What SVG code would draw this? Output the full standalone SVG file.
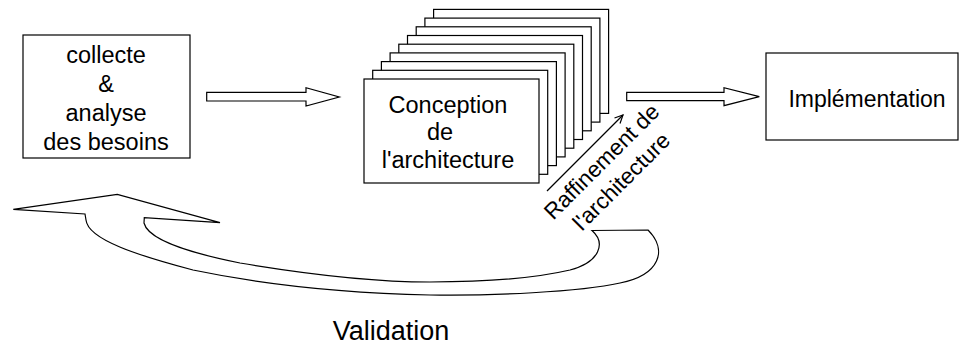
<svg xmlns="http://www.w3.org/2000/svg" width="960" height="345" viewBox="0 0 960 345">
<style>
.box{fill:#fff;stroke:#000;stroke-width:1.2}
.t{font-family:"Liberation Sans",Arial,sans-serif;fill:#000;text-anchor:middle}
.ln{fill:none;stroke:#000;stroke-width:1.2}
.blk{fill:#fff;stroke:#000;stroke-width:1.2;stroke-linejoin:miter}
</style>
<rect width="960" height="345" fill="#fff"/>
<g id="collecte">
<rect class="box" x="23" y="35" width="167" height="123"/>
<text class="t" font-size="23.5" x="106" y="63">collecte</text>
<text class="t" font-size="23.5" x="106" y="92">&amp;</text>
<text class="t" font-size="23.5" x="106" y="121">analyse</text>
<text class="t" font-size="23.5" x="106" y="150">des besoins</text>
</g>
<g id="conception">
<rect class="box" x="433.6" y="9.4" width="175" height="104"/>
<rect class="box" x="424.9" y="18.1" width="175" height="104"/>
<rect class="box" x="416.2" y="26.8" width="175" height="104"/>
<rect class="box" x="407.5" y="35.5" width="175" height="104"/>
<rect class="box" x="398.8" y="44.2" width="175" height="104"/>
<rect class="box" x="390.1" y="52.9" width="175" height="104"/>
<rect class="box" x="381.4" y="61.6" width="175" height="104"/>
<rect class="box" x="372.7" y="70.3" width="175" height="104"/>
<rect class="box" x="364" y="79" width="175" height="104"/>
<text class="t" font-size="23.5" x="448" y="113">Conception</text>
<text class="t" font-size="23.5" x="440" y="140">de</text>
<text class="t" font-size="23.5" x="448" y="168">l'architecture</text>
</g>
<g id="implementation">
<rect class="box" x="766" y="53" width="192" height="87"/>
<text class="t" font-size="23" x="867" y="106.5">Implémentation</text>
</g>
<g id="connectors">
<polygon class="blk" points="206.7,92.3 306,92.3 306,87.7 339.3,97 306,106 306,101 206.7,101"/>
<polygon class="blk" points="626.7,92.3 724,92.3 724,87.7 759.3,96.7 724,105.7 724,100.7 626.7,100.7"/>
<line class="ln" x1="547" y1="191" x2="623" y2="115"/>
<polyline class="ln" points="614.5,118 623,115 620,123.5"/>
<path class="blk" d="M592,230.5 L648,230 C668,250 660,275 620,283 C580,292 490,296 430,295 C340,293 260,284 193,270 C140,256 88,240 86,220 L85,214 L13.3,209.3 L117.3,194.3 L220,222.7 L144.3,217.7 L144,223 C148,240 190,253 240,263 C300,273 370,282 430,282 C490,282 540,277 570,270 C600,262 606,243 592,230.5 Z"/>
</g>
<g id="labels">
<g transform="translate(607,167) rotate(-45)">
<text class="t" font-size="22.5" x="0" y="0">Raffinement de</text>
<text class="t" font-size="22.5" x="0" y="28">l'architecture</text>
</g>
<text class="t" font-size="27" x="391" y="340">Validation</text>
</g>
</svg>
